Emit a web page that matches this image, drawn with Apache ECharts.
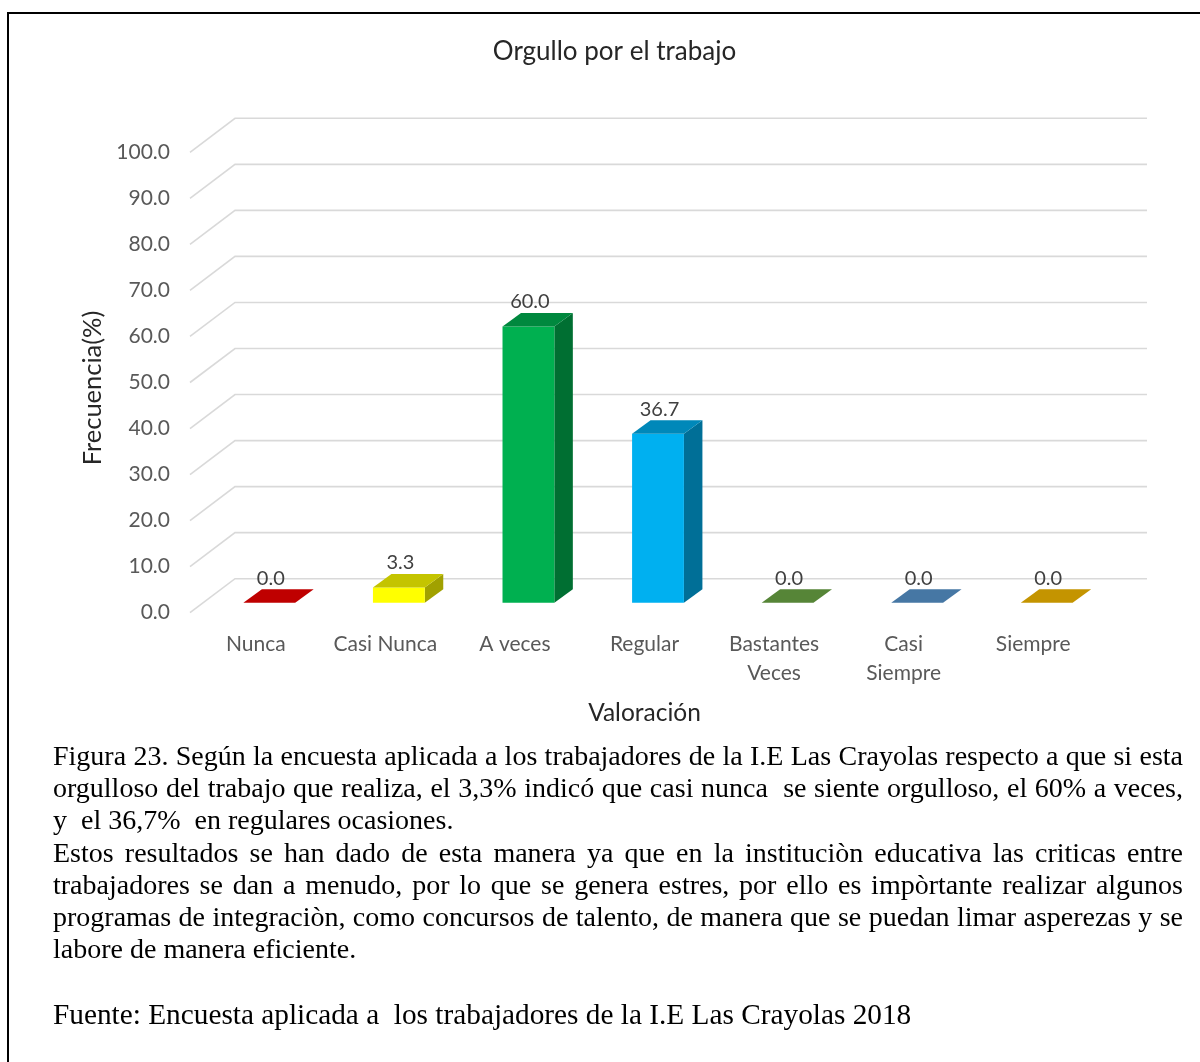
<!DOCTYPE html>
<html lang="es">
<head>
<meta charset="utf-8">
<title>Orgullo por el trabajo</title>
<script src="https://cdn.jsdelivr.net/npm/echarts@6/dist/echarts.min.js"></script>
<style>
  html, body { margin: 0; padding: 0; background: #fff; }
  #wrap { position: relative; width: 1200px; height: 1062px; overflow: hidden; }
  #chart { position: absolute; left: 0; top: 0; width: 1200px; height: 1062px; }
  #caption {
    position: absolute; left: 53px; top: 740px; width: 1130px;
    font-family: "Liberation Serif", "Times New Roman", serif;
    font-size: 28px; line-height: 32.2px; color: #000;
  }
  #caption div { height: 32.2px; white-space: pre-wrap; overflow: visible; }
  #caption .j { text-align: justify; text-align-last: justify; }
  #caption .l { text-align: left; }
  #caption .src { font-size: 29.3px; }
</style>
</head>
<body>
<div id="wrap">
  <div id="chart"></div>
  <div id="caption">
    <div class="j">Figura 23. Según la encuesta aplicada a los trabajadores de la I.E Las Crayolas respecto a que si esta</div>
    <div class="j">orgulloso del trabajo que realiza, el 3,3% indicó que casi nunca  se siente orgulloso, el 60% a veces,</div>
    <div class="l">y  el 36,7%  en regulares ocasiones.</div>
    <div class="j">Estos resultados se han dado de esta manera ya que en la instituciòn educativa las criticas entre</div>
    <div class="j">trabajadores se dan a menudo, por lo que se genera estres, por ello es impòrtante realizar algunos</div>
    <div class="j">programas de integraciòn, como concursos de talento, de manera que se puedan limar asperezas y se</div>
    <div class="l">labore de manera eficiente.</div>
    <div class="l"> </div>
    <div class="l src">Fuente: Encuesta aplicada a  los trabajadores de la I.E Las Crayolas 2018</div>
  </div>
</div>
<script>
// Categories and percentages shown in the chart
const categories = ['Nunca', 'Casi Nunca', 'A veces', 'Regular', 'Bastantes\nVeces', 'Casi\nSiempre', 'Siempre'];
const values = [0.0, 3.3, 60.0, 36.7, 0.0, 0.0, 0.0];
const barColors = ['#F80000', '#FFFF00', '#00B050', '#00B0F0', '#70AD47', '#5B9BD5', '#FFC000'];
const yTicks = [0, 10, 20, 30, 40, 50, 60, 70, 80, 90, 100];

// pseudo-3D geometry (pixels)
const WALL = { dx: 45, dy: -34 };      // depth of the back wall
const FACE = { dx: 13.5, dy: -10 };    // front face of the bars inside the floor
const DEPTH = { dx: 18.5, dy: -13.5 }; // bar depth
const BAR_RATIO = 0.4;

const FONT = 'Lato, "Noto Sans", sans-serif';

function shade(hex, k) {
  const n = parseInt(hex.slice(1), 16);
  const r = Math.round(((n >> 16) & 255) * k);
  const g = Math.round(((n >> 8) & 255) * k);
  const b = Math.round((n & 255) * k);
  return 'rgb(' + r + ',' + g + ',' + b + ')';
}

function renderGrid(params, api) {
  const v = api.value(1);
  const y = api.coord([0, v])[1];
  const cs = params.coordSys;
  const x0 = cs.x - 1;
  return {
    type: 'polyline',
    silent: true,
    shape: { points: [[x0, y], [x0 + WALL.dx, y + WALL.dy], [cs.x + cs.width + WALL.dx + 4, y + WALL.dy]] },
    style: { stroke: '#D9D9D9', lineWidth: 1.6, fill: null }
  };
}

function renderBar(params, api) {
  const i = api.value(0);
  const v = api.value(1);
  const base = api.coord([i, 0]);
  const top = api.coord([i, v]);
  const w = api.size([1, 0])[0] * BAR_RATIO;
  const color = barColors[i];
  const xl = base[0] + FACE.dx - w / 2;
  const xr = xl + w;
  const yb = base[1] + FACE.dy;
  const yt = top[1] + FACE.dy;
  const children = [];
  if (yb - yt > 0.01) {
    children.push({
      type: 'polygon',
      shape: { points: [[xr, yt], [xr + DEPTH.dx, yt + DEPTH.dy], [xr + DEPTH.dx, yb + DEPTH.dy], [xr, yb]] },
      style: { fill: shade(color, 0.63) }
    });
    children.push({
      type: 'rect',
      shape: { x: xl, y: yt, width: w, height: yb - yt },
      style: { fill: color }
    });
  }
  children.push({
    type: 'polygon',
    shape: { points: [[xl, yt], [xr, yt], [xr + DEPTH.dx, yt + DEPTH.dy], [xl + DEPTH.dx, yt + DEPTH.dy]] },
    style: { fill: shade(color, 0.77) }
  });
  children.push({
    type: 'text',
    style: {
      text: v.toFixed(1),
      x: (xl + xr) / 2 + 1.5,
      y: yt + DEPTH.dy - 1,
      textAlign: 'center',
      textVerticalAlign: 'bottom',
      font: '20px ' + FONT,
      fill: '#404040'
    }
  });
  return { type: 'group', children: children };
}

const chart = echarts.init(document.getElementById('chart'), null, { renderer: 'canvas' });

chart.setOption({
  backgroundColor: '#fff',
  animation: false,
  title: {
    text: 'Orgullo por el trabajo',
    left: 609.5,
    top: 34,
    textAlign: 'center',
    textStyle: { fontFamily: FONT, fontSize: 26, fontWeight: 'normal', color: '#262626' }
  },
  grid: { left: 191, right: 102, top: 152.3, bottom: 449.3, containLabel: false },
  xAxis: {
    type: 'category',
    data: categories,
    axisLine: { show: false },
    axisTick: { show: false },
    splitLine: { show: false },
    axisLabel: { margin: 17, fontFamily: FONT, fontSize: 21, lineHeight: 29, color: '#595959', interval: 0 },
    name: 'Valoración',
    nameLocation: 'middle',
    nameGap: 88,
    nameTextStyle: { fontFamily: FONT, fontSize: 24.5, color: '#262626' }
  },
  yAxis: {
    type: 'value',
    min: 0,
    max: 100,
    interval: 10,
    axisLine: { show: false },
    axisTick: { show: false },
    splitLine: { show: false },
    axisLabel: { margin: 21, fontFamily: FONT, fontSize: 21, color: '#595959', formatter: v => v.toFixed(1) },
    name: 'Frecuencia(%)',
    nameLocation: 'middle',
    nameGap: 84,
    nameTextStyle: { fontFamily: FONT, fontSize: 25.5, color: '#262626', padding: [0, 11, 0, 0] }
  },
  series: [
    {
      type: 'custom',
      name: 'grid',
      renderItem: renderGrid,
      data: yTicks.map(t => [0, t]),
      z: 1,
      silent: true,
      clip: false
    },
    {
      type: 'custom',
      name: 'Frecuencia',
      renderItem: renderBar,
      data: values.map((v, i) => [i, v]),
      z: 3,
      clip: false
    }
  ],
  graphic: [
    {
      type: 'rect',
      shape: { x: 8, y: 13, width: 1200, height: 1060 },
      style: { fill: null, stroke: '#000', lineWidth: 2 },
      silent: true,
      z: 10
    }
  ]
});
</script>
</body>
</html>
